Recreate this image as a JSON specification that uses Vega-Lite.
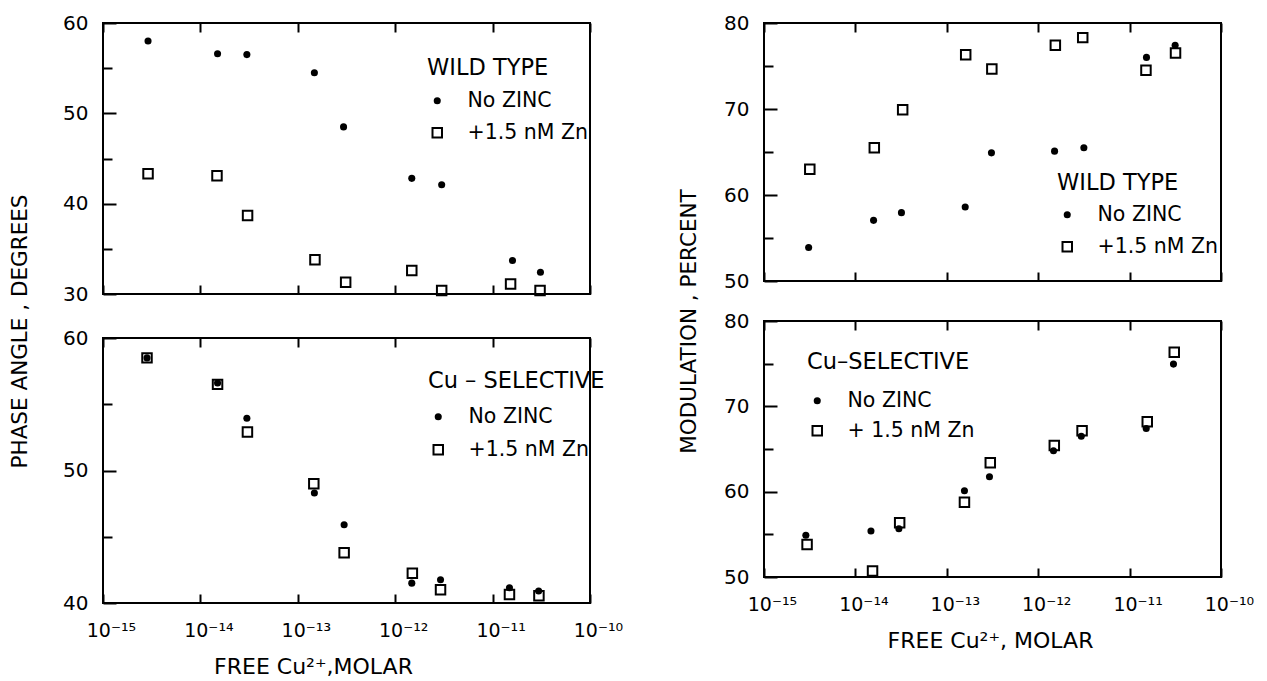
{
  "$schema": "https://vega.github.io/schema/vega-lite/v6.json",
  "background": "white",
  "padding": {"left": 8, "top": 12, "right": 5, "bottom": 5},
  "config": {
    "view": {"stroke": "black", "strokeWidth": 2},
    "font": "DejaVu Sans",
    "axis": {
      "domain": false, "grid": false, "tickColor": "black", "tickWidth": 2,
      "labelColor": "black", "labelFont": "DejaVu Sans", "labelFontSize": 20,
      "titleFont": "DejaVu Sans", "titleFontWeight": "normal", "titleColor": "black",
      "labelFlush": false, "labelOverlap": false, "labelBound": false
    },
    "legend": {
      "orient": "none", "padding": 0, "titleFont": "DejaVu Sans", "titleFontSize": 22.5,
      "titleFontWeight": "normal", "titleColor": "black", "labelFont": "DejaVu Sans",
      "labelFontSize": 20.5, "labelColor": "black", "labelOffset": 20, "rowPadding": 11,
      "titlePadding": 11, "symbolStrokeColor": "black", "symbolOpacity": 1
    }
  },
  "resolve": {
    "scale": {"shape": "independent", "fill": "independent", "size": "independent", "strokeWidth": "independent", "stroke": "independent"},
    "legend": {"shape": "independent", "fill": "independent", "size": "independent", "strokeWidth": "independent", "stroke": "independent"}
  },
  "spacing": 53,
  "hconcat": [
    {
      "bounds": "flush",
      "spacing": 44,
      "resolve": {
        "scale": {"shape": "independent", "fill": "independent", "size": "independent", "strokeWidth": "independent", "stroke": "independent"},
        "legend": {"shape": "independent", "fill": "independent", "size": "independent", "strokeWidth": "independent", "stroke": "independent"}
      },
      "vconcat": [
        {
          "width": 487, "height": 271,
          "data": {"values": [
            {"c": 2.9e-15, "v": 58.0, "s": "No ZINC"},
            {"c": 1.5e-14, "v": 56.6, "s": "No ZINC"},
            {"c": 3.0e-14, "v": 56.5, "s": "No ZINC"},
            {"c": 1.48e-13, "v": 54.5, "s": "No ZINC"},
            {"c": 2.95e-13, "v": 48.5, "s": "No ZINC"},
            {"c": 1.48e-12, "v": 42.8, "s": "No ZINC"},
            {"c": 3.0e-12, "v": 42.1, "s": "No ZINC"},
            {"c": 1.6e-11, "v": 33.7, "s": "No ZINC"},
            {"c": 3.1e-11, "v": 32.4, "s": "No ZINC"},
            {"c": 2.9e-15, "v": 43.3, "s": "+1.5 nM Zn"},
            {"c": 1.48e-14, "v": 43.1, "s": "+1.5 nM Zn"},
            {"c": 3.05e-14, "v": 38.7, "s": "+1.5 nM Zn"},
            {"c": 1.5e-13, "v": 33.8, "s": "+1.5 nM Zn"},
            {"c": 3.1e-13, "v": 31.3, "s": "+1.5 nM Zn"},
            {"c": 1.48e-12, "v": 32.6, "s": "+1.5 nM Zn"},
            {"c": 3.0e-12, "v": 30.4, "s": "+1.5 nM Zn"},
            {"c": 1.53e-11, "v": 31.1, "s": "+1.5 nM Zn"},
            {"c": 3.07e-11, "v": 30.4, "s": "+1.5 nM Zn"}
          ]},
          "resolve": {"axis": {"x": "independent", "y": "independent"}},
          "layer": [
            {
              "transform": [{"filter": "datum.s === '+1.5 nM Zn'"}],
              "mark": {"type": "point", "opacity": 1},
              "encoding": {
                "x": {"field": "c", "type": "quantitative", "scale": {"type": "log", "domain": [1e-15, 1e-10], "nice": false},
                      "axis": {"orient": "top", "values": [1e-15, 1e-14, 1e-13, 1e-12, 1e-11, 1e-10], "labels": false, "tickSize": -9, "title": null}},
                "y": {"field": "v", "type": "quantitative", "scale": {"domain": [30, 60], "nice": false, "zero": false},
                      "axis": {"orient": "left", "values": [35, 45, 55], "labels": false, "tickSize": -9, "title": null}},
                "shape": {"field": "s", "type": "nominal", "scale": {"domain": ["No ZINC", "+1.5 nM Zn"], "range": ["circle", "square"]},
                          "legend": {"title": "WILD TYPE", "legendX": 324, "legendY": 34, "titlePadding": 11, "rowPadding": 11}},
                "fill": {"field": "s", "type": "nominal", "scale": {"domain": ["No ZINC", "+1.5 nM Zn"], "range": ["black", "transparent"]}, "legend": {"title": "WILD TYPE"}},
                "stroke": {"field": "s", "type": "nominal", "scale": {"domain": ["No ZINC", "+1.5 nM Zn"], "range": ["black", "black"]}, "legend": {"title": "WILD TYPE"}},
                "size": {"field": "s", "type": "nominal", "scale": {"domain": ["No ZINC", "+1.5 nM Zn"], "range": [50, 90]}, "legend": {"title": "WILD TYPE"}},
                "strokeWidth": {"field": "s", "type": "nominal", "scale": {"domain": ["No ZINC", "+1.5 nM Zn"], "range": [0, 2]}, "legend": {"title": "WILD TYPE"}}
              }
            },
            {
              "transform": [{"filter": "datum.s === 'No ZINC'"}],
              "mark": {"type": "point", "opacity": 1},
              "encoding": {
                "x": {"field": "c", "type": "quantitative", "scale": {"type": "log", "domain": [1e-15, 1e-10], "nice": false},
                      "axis": {"orient": "bottom", "values": [1e-15, 1e-14, 1e-13, 1e-12, 1e-11, 1e-10], "labels": false, "tickSize": -9, "title": null}},
                "y": {"field": "v", "type": "quantitative", "scale": {"domain": [30, 60], "nice": false, "zero": false},
                      "axis": {"orient": "left", "values": [30, 40, 50, 60], "tickSize": -13, "labelPadding": 28,
                               "title": "PHASE ANGLE , DEGREES", "titleFontSize": 21.5, "titleX": -83, "titleY": 308,
                               "titleAngle": 270, "titleBaseline": "middle", "titleAlign": "center"}},
                "shape": {"field": "s", "type": "nominal"},
                "fill": {"field": "s", "type": "nominal"},
                "stroke": {"field": "s", "type": "nominal"},
                "size": {"field": "s", "type": "nominal"},
                "strokeWidth": {"field": "s", "type": "nominal"}
              }
            }
          ]
        },
        {
          "width": 487, "height": 265,
          "data": {"values": [
            {"c": 2.83e-15, "v": 58.5, "s": "No ZINC"},
            {"c": 1.5e-14, "v": 56.6, "s": "No ZINC"},
            {"c": 3.0e-14, "v": 53.95, "s": "No ZINC"},
            {"c": 1.48e-13, "v": 48.3, "s": "No ZINC"},
            {"c": 2.99e-13, "v": 45.9, "s": "No ZINC"},
            {"c": 1.48e-12, "v": 41.5, "s": "No ZINC"},
            {"c": 2.92e-12, "v": 41.75, "s": "No ZINC"},
            {"c": 1.49e-11, "v": 41.15, "s": "No ZINC"},
            {"c": 2.97e-11, "v": 40.9, "s": "No ZINC"},
            {"c": 2.83e-15, "v": 58.5, "s": "+1.5 nM Zn"},
            {"c": 1.5e-14, "v": 56.5, "s": "+1.5 nM Zn"},
            {"c": 3.04e-14, "v": 52.9, "s": "+1.5 nM Zn"},
            {"c": 1.46e-13, "v": 49.0, "s": "+1.5 nM Zn"},
            {"c": 2.99e-13, "v": 43.8, "s": "+1.5 nM Zn"},
            {"c": 1.5e-12, "v": 42.25, "s": "+1.5 nM Zn"},
            {"c": 2.92e-12, "v": 41.0, "s": "+1.5 nM Zn"},
            {"c": 1.49e-11, "v": 40.65, "s": "+1.5 nM Zn"},
            {"c": 2.99e-11, "v": 40.55, "s": "+1.5 nM Zn"}
          ]},
          "resolve": {"axis": {"x": "independent", "y": "independent"}},
          "layer": [
            {
              "transform": [{"filter": "datum.s === '+1.5 nM Zn'"}],
              "mark": {"type": "point", "opacity": 1},
              "encoding": {
                "x": {"field": "c", "type": "quantitative", "scale": {"type": "log", "domain": [1e-15, 1e-10], "nice": false},
                      "axis": {"orient": "top", "values": [1e-15, 1e-14, 1e-13, 1e-12, 1e-11, 1e-10], "labels": false, "tickSize": -9, "title": null}},
                "y": {"field": "v", "type": "quantitative", "scale": {"domain": [40, 60], "nice": false, "zero": false},
                      "axis": {"orient": "left", "values": [45, 55], "labels": false, "tickSize": -9, "title": null}},
                "shape": {"field": "s", "type": "nominal", "scale": {"domain": ["No ZINC", "+1.5 nM Zn"], "range": ["circle", "square"]},
                          "legend": {"title": "Cu – SELECTIVE", "legendX": 325, "legendY": 32, "titlePadding": 14, "rowPadding": 12,
                                     "encode": {"title": {"dx": {"value": -44}}}}},
                "fill": {"field": "s", "type": "nominal", "scale": {"domain": ["No ZINC", "+1.5 nM Zn"], "range": ["black", "transparent"]}, "legend": {"title": "Cu – SELECTIVE"}},
                "stroke": {"field": "s", "type": "nominal", "scale": {"domain": ["No ZINC", "+1.5 nM Zn"], "range": ["black", "black"]}, "legend": {"title": "Cu – SELECTIVE"}},
                "size": {"field": "s", "type": "nominal", "scale": {"domain": ["No ZINC", "+1.5 nM Zn"], "range": [50, 90]}, "legend": {"title": "Cu – SELECTIVE"}},
                "strokeWidth": {"field": "s", "type": "nominal", "scale": {"domain": ["No ZINC", "+1.5 nM Zn"], "range": [0, 2]}, "legend": {"title": "Cu – SELECTIVE"}}
              }
            },
            {
              "transform": [{"filter": "datum.s === 'No ZINC'"}],
              "mark": {"type": "point", "opacity": 1},
              "encoding": {
                "x": {"field": "c", "type": "quantitative", "scale": {"type": "log", "domain": [1e-15, 1e-10], "nice": false},
                      "axis": {"orient": "bottom", "values": [1e-15, 1e-14, 1e-13, 1e-12, 1e-11, 1e-10], "tickSize": -9, "labelPadding": 27,
                               "labelFontSize": 19, "labelOffset": 8,
                               "labelExpr": "['10⁻¹⁵','10⁻¹⁴','10⁻¹³','10⁻¹²','10⁻¹¹','10⁻¹⁰'][round(log(datum.value)/LN10)+15]",
                               "title": "FREE  Cu²⁺,MOLAR", "titleFontSize": 22, "titleX": 210, "titleY": 63, "titleBaseline": "middle", "titleAlign": "center"}},
                "y": {"field": "v", "type": "quantitative", "scale": {"domain": [40, 60], "nice": false, "zero": false},
                      "axis": {"orient": "left", "values": [40, 50, 60], "tickSize": -13, "labelPadding": 28, "title": null}},
                "shape": {"field": "s", "type": "nominal"},
                "fill": {"field": "s", "type": "nominal"},
                "stroke": {"field": "s", "type": "nominal"},
                "size": {"field": "s", "type": "nominal"},
                "strokeWidth": {"field": "s", "type": "nominal"}
              }
            }
          ]
        }
      ]
    },
    {
      "bounds": "flush",
      "spacing": 40,
      "resolve": {
        "scale": {"shape": "independent", "fill": "independent", "size": "independent", "strokeWidth": "independent", "stroke": "independent"},
        "legend": {"shape": "independent", "fill": "independent", "size": "independent", "strokeWidth": "independent", "stroke": "independent"}
      },
      "vconcat": [
        {
          "width": 457, "height": 258,
          "data": {"values": [
            {"c": 3.08e-15, "v": 53.9, "s": "No ZINC"},
            {"c": 1.58e-14, "v": 57.05, "s": "No ZINC"},
            {"c": 3.19e-14, "v": 57.95, "s": "No ZINC"},
            {"c": 1.59e-13, "v": 58.6, "s": "No ZINC"},
            {"c": 3.08e-13, "v": 64.9, "s": "No ZINC"},
            {"c": 1.51e-12, "v": 65.1, "s": "No ZINC"},
            {"c": 3.16e-12, "v": 65.5, "s": "No ZINC"},
            {"c": 1.53e-11, "v": 76.0, "s": "No ZINC"},
            {"c": 3.15e-11, "v": 77.4, "s": "No ZINC"},
            {"c": 3.17e-15, "v": 63.0, "s": "+1.5 nM Zn"},
            {"c": 1.61e-14, "v": 65.5, "s": "+1.5 nM Zn"},
            {"c": 3.29e-14, "v": 69.9, "s": "+1.5 nM Zn"},
            {"c": 1.61e-13, "v": 76.3, "s": "+1.5 nM Zn"},
            {"c": 3.11e-13, "v": 74.65, "s": "+1.5 nM Zn"},
            {"c": 1.54e-12, "v": 77.4, "s": "+1.5 nM Zn"},
            {"c": 3.07e-12, "v": 78.3, "s": "+1.5 nM Zn"},
            {"c": 1.51e-11, "v": 74.5, "s": "+1.5 nM Zn"},
            {"c": 3.18e-11, "v": 76.5, "s": "+1.5 nM Zn"}
          ]},
          "resolve": {"axis": {"x": "independent", "y": "independent"}},
          "layer": [
            {
              "transform": [{"filter": "datum.s === '+1.5 nM Zn'"}],
              "mark": {"type": "point", "opacity": 1},
              "encoding": {
                "x": {"field": "c", "type": "quantitative", "scale": {"type": "log", "domain": [1e-15, 1e-10], "nice": false},
                      "axis": {"orient": "top", "values": [1e-15, 1e-14, 1e-13, 1e-12, 1e-11, 1e-10], "labels": false, "tickSize": -9, "title": null}},
                "y": {"field": "v", "type": "quantitative", "scale": {"domain": [50, 80], "nice": false, "zero": false},
                      "axis": {"orient": "left", "values": [55, 65, 75], "labels": false, "tickSize": -9, "title": null}},
                "shape": {"field": "s", "type": "nominal", "scale": {"domain": ["No ZINC", "+1.5 nM Zn"], "range": ["circle", "square"]},
                          "legend": {"title": "WILD TYPE", "legendX": 293, "legendY": 149, "titlePadding": 10, "rowPadding": 11,
                                     "encode": {"title": {"dx": {"value": -4}}}}},
                "fill": {"field": "s", "type": "nominal", "scale": {"domain": ["No ZINC", "+1.5 nM Zn"], "range": ["black", "transparent"]}, "legend": {"title": "WILD TYPE"}},
                "stroke": {"field": "s", "type": "nominal", "scale": {"domain": ["No ZINC", "+1.5 nM Zn"], "range": ["black", "black"]}, "legend": {"title": "WILD TYPE"}},
                "size": {"field": "s", "type": "nominal", "scale": {"domain": ["No ZINC", "+1.5 nM Zn"], "range": [50, 90]}, "legend": {"title": "WILD TYPE"}},
                "strokeWidth": {"field": "s", "type": "nominal", "scale": {"domain": ["No ZINC", "+1.5 nM Zn"], "range": [0, 2]}, "legend": {"title": "WILD TYPE"}}
              }
            },
            {
              "transform": [{"filter": "datum.s === 'No ZINC'"}],
              "mark": {"type": "point", "opacity": 1},
              "encoding": {
                "x": {"field": "c", "type": "quantitative", "scale": {"type": "log", "domain": [1e-15, 1e-10], "nice": false},
                      "axis": {"orient": "bottom", "values": [1e-15, 1e-14, 1e-13, 1e-12, 1e-11, 1e-10], "labels": false, "tickSize": -9, "title": null}},
                "y": {"field": "v", "type": "quantitative", "scale": {"domain": [50, 80], "nice": false, "zero": false},
                      "axis": {"orient": "left", "values": [50, 60, 70, 80], "tickSize": -13, "labelPadding": 28,
                               "title": "MODULATION , PERCENT", "titleFontSize": 21.5, "titleX": -75, "titleY": 298,
                               "titleAngle": 270, "titleBaseline": "middle", "titleAlign": "center"}},
                "shape": {"field": "s", "type": "nominal"},
                "fill": {"field": "s", "type": "nominal"},
                "stroke": {"field": "s", "type": "nominal"},
                "size": {"field": "s", "type": "nominal"},
                "strokeWidth": {"field": "s", "type": "nominal"}
              }
            }
          ]
        },
        {
          "width": 457, "height": 256,
          "data": {"values": [
            {"c": 2.87e-15, "v": 54.9, "s": "No ZINC"},
            {"c": 1.48e-14, "v": 55.4, "s": "No ZINC"},
            {"c": 2.99e-14, "v": 55.65, "s": "No ZINC"},
            {"c": 1.56e-13, "v": 60.1, "s": "No ZINC"},
            {"c": 2.93e-13, "v": 61.75, "s": "No ZINC"},
            {"c": 1.47e-12, "v": 64.8, "s": "No ZINC"},
            {"c": 2.96e-12, "v": 66.5, "s": "No ZINC"},
            {"c": 1.52e-11, "v": 67.4, "s": "No ZINC"},
            {"c": 3.02e-11, "v": 74.95, "s": "No ZINC"},
            {"c": 2.96e-15, "v": 53.8, "s": "+1.5 nM Zn"},
            {"c": 1.54e-14, "v": 50.7, "s": "+1.5 nM Zn"},
            {"c": 3.05e-14, "v": 56.35, "s": "+1.5 nM Zn"},
            {"c": 1.56e-13, "v": 58.75, "s": "+1.5 nM Zn"},
            {"c": 2.99e-13, "v": 63.4, "s": "+1.5 nM Zn"},
            {"c": 1.5e-12, "v": 65.4, "s": "+1.5 nM Zn"},
            {"c": 3.02e-12, "v": 67.15, "s": "+1.5 nM Zn"},
            {"c": 1.56e-11, "v": 68.2, "s": "+1.5 nM Zn"},
            {"c": 3.08e-11, "v": 76.35, "s": "+1.5 nM Zn"}
          ]},
          "resolve": {"axis": {"x": "independent", "y": "independent"}},
          "layer": [
            {
              "transform": [{"filter": "datum.s === '+1.5 nM Zn'"}],
              "mark": {"type": "point", "opacity": 1},
              "encoding": {
                "x": {"field": "c", "type": "quantitative", "scale": {"type": "log", "domain": [1e-15, 1e-10], "nice": false},
                      "axis": {"orient": "top", "values": [1e-15, 1e-14, 1e-13, 1e-12, 1e-11, 1e-10], "labels": false, "tickSize": -9, "title": null}},
                "y": {"field": "v", "type": "quantitative", "scale": {"domain": [50, 80], "nice": false, "zero": false},
                      "axis": {"orient": "left", "values": [55, 65, 75], "labels": false, "tickSize": -9, "title": null}},
                "shape": {"field": "s", "type": "nominal", "scale": {"domain": ["No ZINC", "+1.5 nM Zn"], "range": ["circle", "square"]},
                          "legend": {"title": "Cu–SELECTIVE", "legendX": 43, "legendY": 30, "titlePadding": 17, "rowPadding": 9,
                                     "labelExpr": "datum.label === '+1.5 nM Zn' ? '+ 1.5 nM Zn' : datum.label"}},
                "fill": {"field": "s", "type": "nominal", "scale": {"domain": ["No ZINC", "+1.5 nM Zn"], "range": ["black", "transparent"]}, "legend": {"title": "Cu–SELECTIVE"}},
                "stroke": {"field": "s", "type": "nominal", "scale": {"domain": ["No ZINC", "+1.5 nM Zn"], "range": ["black", "black"]}, "legend": {"title": "Cu–SELECTIVE"}},
                "size": {"field": "s", "type": "nominal", "scale": {"domain": ["No ZINC", "+1.5 nM Zn"], "range": [50, 90]}, "legend": {"title": "Cu–SELECTIVE"}},
                "strokeWidth": {"field": "s", "type": "nominal", "scale": {"domain": ["No ZINC", "+1.5 nM Zn"], "range": [0, 2]}, "legend": {"title": "Cu–SELECTIVE"}}
              }
            },
            {
              "transform": [{"filter": "datum.s === 'No ZINC'"}],
              "mark": {"type": "point", "opacity": 1},
              "encoding": {
                "x": {"field": "c", "type": "quantitative", "scale": {"type": "log", "domain": [1e-15, 1e-10], "nice": false},
                      "axis": {"orient": "bottom", "values": [1e-15, 1e-14, 1e-13, 1e-12, 1e-11, 1e-10], "tickSize": -9, "labelPadding": 27,
                               "labelFontSize": 19, "labelOffset": 8,
                               "labelExpr": "['10⁻¹⁵','10⁻¹⁴','10⁻¹³','10⁻¹²','10⁻¹¹','10⁻¹⁰'][round(log(datum.value)/LN10)+15]",
                               "title": "FREE  Cu²⁺, MOLAR", "titleFontSize": 22, "titleX": 226, "titleY": 63, "titleBaseline": "middle", "titleAlign": "center"}},
                "y": {"field": "v", "type": "quantitative", "scale": {"domain": [50, 80], "nice": false, "zero": false},
                      "axis": {"orient": "left", "values": [50, 60, 70, 80], "tickSize": -13, "labelPadding": 28, "title": null}},
                "shape": {"field": "s", "type": "nominal"},
                "fill": {"field": "s", "type": "nominal"},
                "stroke": {"field": "s", "type": "nominal"},
                "size": {"field": "s", "type": "nominal"},
                "strokeWidth": {"field": "s", "type": "nominal"}
              }
            }
          ]
        }
      ]
    }
  ]
}
